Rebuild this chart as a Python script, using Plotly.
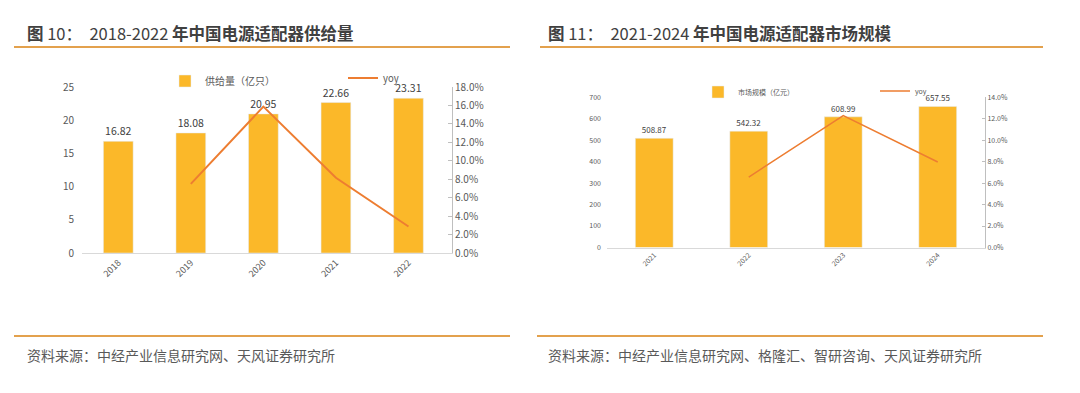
import plotly.graph_objects as go

# Chart 1 data
years1 = ["2018", "2019", "2020", "2021", "2022"]
supply = [16.82, 18.08, 20.95, 22.66, 23.31]
yoy1_years = ["2019", "2020", "2021", "2022"]
yoy1 = [7.49, 15.87, 8.16, 2.87]

# Chart 2 data
years2 = ["2021", "2022", "2023", "2024"]
market = [508.87, 542.32, 608.99, 657.55]
yoy2_years = ["2022", "2023", "2024"]
yoy2 = [6.57, 12.29, 7.97]

W, H = 1080, 393
OFF = 8  # page body margin
FONT = "Noto Sans CJK SC"
BAR = "#FBB829"
LINE = "#ED7D31"
TXT = "#404040"
AX = "#595959"

def px(x):
    return (x - OFF) / W

def py(y):
    return 1 - (y - OFF) / H

fig = go.Figure()

fig.add_trace(go.Bar(x=years1, y=supply, name="供给量（亿只）", marker_color=BAR,
                     width=0.41, text=supply, texttemplate="%{y:.2f}", textposition="outside",
                     textfont=dict(size=10.5, color=TXT), cliponaxis=False, showlegend=True,
                     xaxis="x", yaxis="y", legend="legend"))
fig.add_trace(go.Scatter(x=yoy1_years, y=yoy1, name="yoy", mode="lines", showlegend=True,
                         line=dict(color=LINE, width=2), xaxis="x", yaxis="y2", legend="legend2"))

fig.add_trace(go.Bar(x=years2, y=market, name="市场规模（亿元）", marker_color=BAR,
                     width=0.40, text=market, texttemplate="%{y:.2f}", textposition="outside",
                     textfont=dict(size=8, color=TXT), cliponaxis=False, showlegend=True,
                     xaxis="x2", yaxis="y3", legend="legend3"))
fig.add_trace(go.Scatter(x=yoy2_years, y=yoy2, name="yoy", mode="lines", showlegend=True,
                         line=dict(color=LINE, width=1.5), xaxis="x2", yaxis="y4", legend="legend4"))

common_x = dict(showline=True, linecolor="#D9D9D9", linewidth=1, ticks="", showgrid=False,
                tickangle=-45, type="category", fixedrange=True, automargin=False)

fig.update_layout(
    width=W, height=H, margin=dict(l=0, r=0, t=0, b=0, autoexpand=False),
    paper_bgcolor="white", plot_bgcolor="white",
    font=dict(family=FONT, color=AX),
    showlegend=True,
    xaxis=dict(domain=[px(82), px(452)], range=[-0.5, 4.6], anchor="y",
               tickfont=dict(size=9, color=AX), **common_x),
    yaxis=dict(domain=[py(253), py(87)], range=[0, 25], dtick=5, showgrid=False,
               showline=False, zeroline=False, tickfont=dict(size=10, color=AX),
               ticklabelstandoff=7, anchor="x", automargin=False),
    yaxis2=dict(overlaying="y", side="right", range=[0, 18], dtick=2, tickformat=".1f",
                ticksuffix="%", showgrid=False, zeroline=False, showline=True,
                linecolor="#BFBFBF", ticks="inside", ticklen=4, tickcolor="#BFBFBF",
                tickfont=dict(size=10, color=AX), anchor="x", automargin=False),
    xaxis2=dict(domain=[px(607), px(985)], range=[-0.5, 3.5], anchor="y3",
                tickfont=dict(size=7, color=AX), **common_x),
    yaxis3=dict(domain=[py(247.5), py(97.3)], range=[0, 700], dtick=100, showgrid=False,
                showline=False, zeroline=False, tickfont=dict(size=7, color=AX),
                ticklabelstandoff=5, anchor="x2", automargin=False),
    yaxis4=dict(overlaying="y3", side="right", range=[0, 14], dtick=2, tickformat=".1f",
                ticksuffix="%", showgrid=False, zeroline=False, showline=True,
                linecolor="#BFBFBF", ticks="inside", ticklen=3, tickcolor="#BFBFBF",
                tickfont=dict(size=7, color=AX), anchor="x2", automargin=False),
    legend=dict(x=px(165), y=py(81), xanchor="left", yanchor="middle", bgcolor="rgba(0,0,0,0)",
                font=dict(size=10, color=AX), orientation="h"),
    legend2=dict(x=px(343), y=py(78), xanchor="left", yanchor="middle", bgcolor="rgba(0,0,0,0)",
                 font=dict(size=9.5, color=AX), orientation="h"),
    legend3=dict(x=px(698), y=py(92), xanchor="left", yanchor="middle", bgcolor="rgba(0,0,0,0)",
                 font=dict(size=7, color=AX), orientation="h"),
    legend4=dict(x=px(875), y=py(91), xanchor="left", yanchor="middle", bgcolor="rgba(0,0,0,0)",
                 font=dict(size=7, color=AX), orientation="h"),
)

# Titles, separator lines, sources
shapes = []
for x0, x1 in [(14, 510), (540, 1043)]:
    shapes.append(dict(type="line", xref="paper", yref="paper", x0=px(x0), x1=px(x1),
                       y0=py(47), y1=py(47), line=dict(color="#E3A14D", width=2)))
for x0, x1 in [(14, 510), (537, 1043)]:
    shapes.append(dict(type="line", xref="paper", yref="paper", x0=px(x0), x1=px(x1),
                       y0=py(336), y1=py(336), line=dict(color="#E3A14D", width=2)))
fig.update_layout(shapes=shapes)

titles = [
    (25, "<b>图</b> 10：  2018-2022 <b>年中国电源适配器供给量</b>"),
    (546, "<b>图</b> 11：  2021-2024 <b>年中国电源适配器市场规模</b>"),
]
for x, t in titles:
    fig.add_annotation(x=px(x), y=py(33), xref="paper", yref="paper", xanchor="left",
                       yanchor="middle", text=t, showarrow=False,
                       font=dict(size=16.5, color="#404040", family=FONT))
sources = [
    (25, "资料来源：中经产业信息研究网、天风证券研究所"),
    (546, "资料来源：中经产业信息研究网、格隆汇、智研咨询、天风证券研究所"),
]
for x, t in sources:
    fig.add_annotation(x=px(x), y=py(355), xref="paper", yref="paper", xanchor="left",
                       yanchor="middle", text=t, showarrow=False,
                       font=dict(size=14, color="#595959", family=FONT))

fig.write_html("out.html")
